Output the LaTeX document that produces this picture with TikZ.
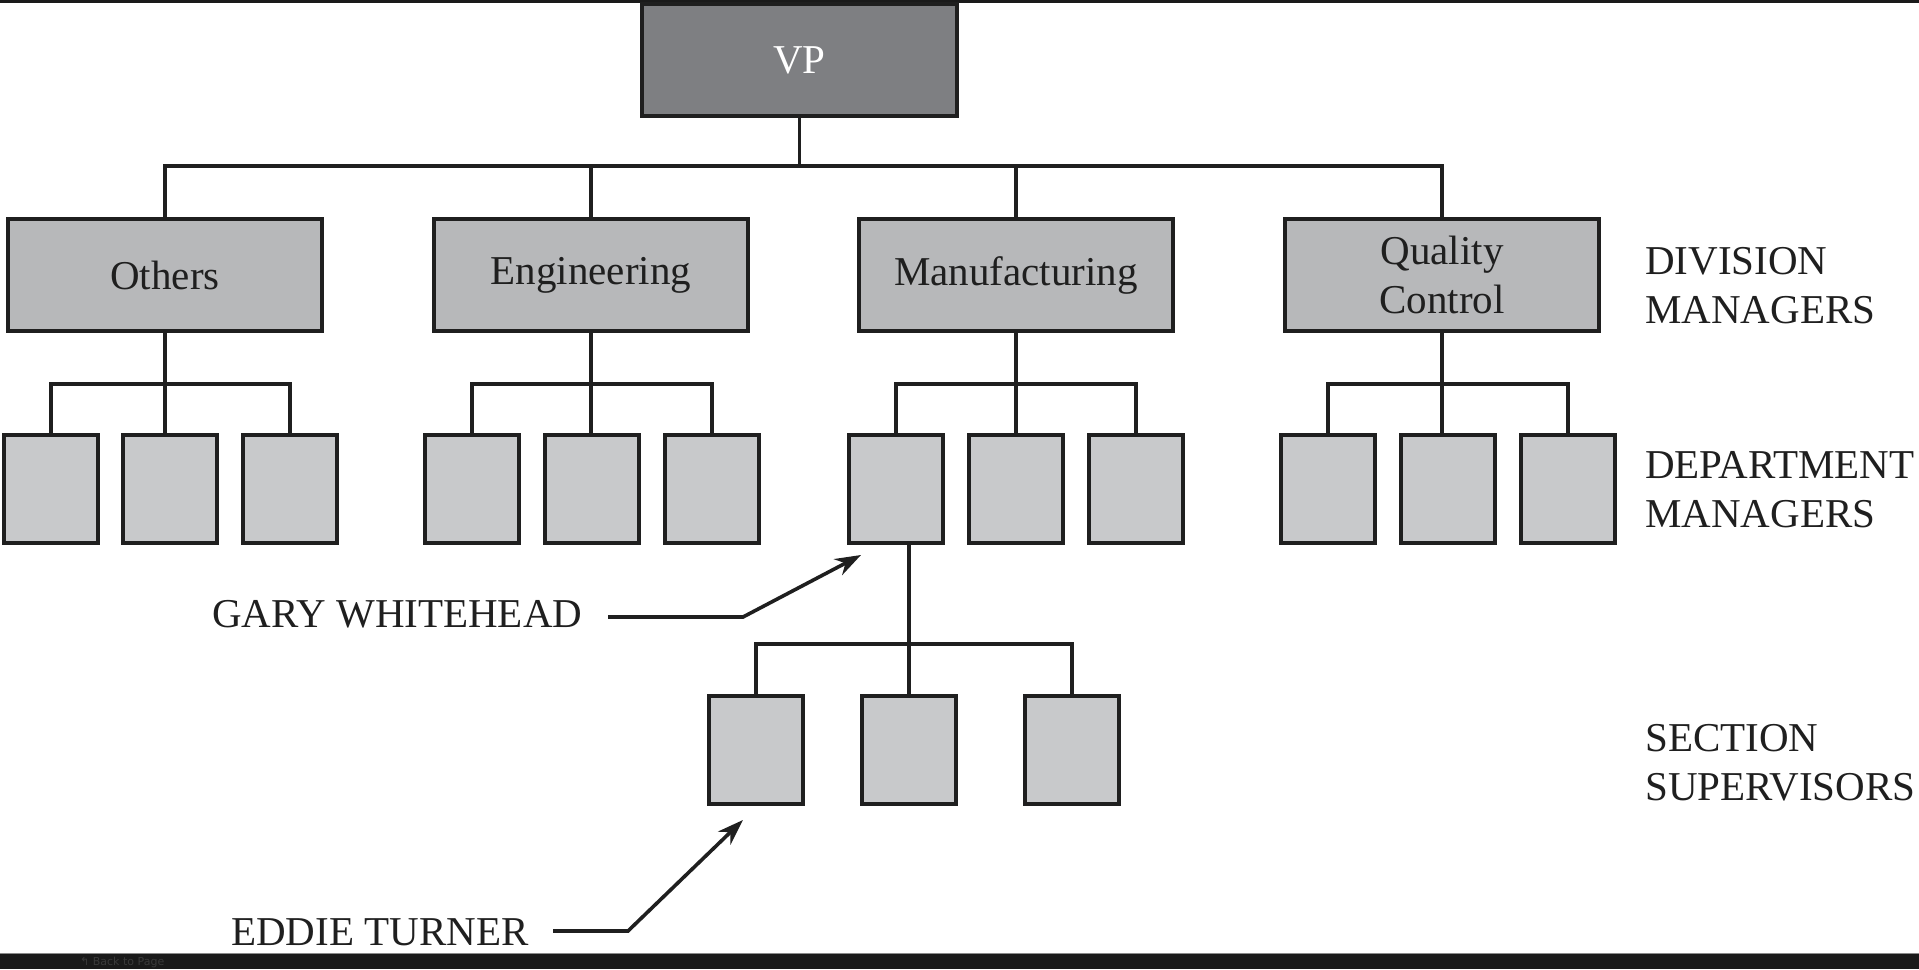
\documentclass[tikz,border=0pt]{standalone}
\usepackage{fontspec}
\setmainfont{Liberation Serif}
\newfontfamily\uifont{DejaVu Sans}
\usetikzlibrary{arrows.meta}
\pgfdeclarelayer{paper}
\pgfdeclarelayer{wires}
\pgfsetlayers{paper,wires,main}
\definecolor{ink}{HTML}{1F1F1F}
\definecolor{vpfill}{HTML}{7E7F82}
\definecolor{divfill}{HTML}{B7B8BA}
\definecolor{depfill}{HTML}{C8C9CB}
\definecolor{stripc}{HTML}{1A1A1A}
\definecolor{stripline}{HTML}{8A8A8A}
\definecolor{striptext}{HTML}{3A3A3A}
\tikzset{
  big/.style={font=\fontsize{41}{49}\selectfont},
  vpbox/.style={draw=ink, line width=4pt, fill=vpfill, text=white, big,
    minimum width=315pt, minimum height=112pt, inner sep=0pt},
  divbox/.style={draw=ink, line width=4pt, fill=divfill, text=ink, big, align=center,
    minimum width=314pt, minimum height=112pt, inner sep=0pt},
  depbox/.style={draw=ink, line width=4pt, fill=depfill,
    minimum width=94pt, minimum height=108pt, inner sep=0pt},
  secbox/.style={draw=ink, line width=4pt, fill=depfill,
    minimum width=94pt, minimum height=108pt, inner sep=0pt},
  conn/.style={draw=ink, line width=3.6pt},
  pointer/.style={draw=ink, line width=3.6pt, -{Stealth[length=26pt,width=18pt]}},
  label/.style={big, text=ink, inner sep=0pt, align=left},
}
\begin{document}
\begin{tikzpicture}[x=1pt,y=-1pt]
\useasboundingbox (0,0) rectangle (1919,969);
\begin{pgfonlayer}{paper}
\fill[white] (0,0) rectangle (1919,969);
\fill[stripc] (0,0) rectangle (1919,2.5);
\fill[stripc] (0,953) rectangle (1919,969);
\draw[stripline, line width=1pt] (0,953) -- (1919,953);
\end{pgfonlayer}
\node[anchor=west, text=striptext, font=\uifont\fontsize{11}{13}\selectfont, inner sep=0pt] (back) at (80,962) {↰ Back to Page};

% VP
\node[vpbox] (vp) at (799.5,60) {VP};
% Divisions
\node[divbox] (odiv) at (165,275) {Others};
\node[divbox] (ediv) at (591,275) {Engineering};
\node[divbox] (mdiv) at (1016,275) {Manufacturing};
\node[divbox] (qdiv) at (1442,275) {Quality\\Control};
% Departments
\node[depbox] (o1) at (51,489) {};
\node[depbox] (o2) at (170,489) {};
\node[depbox] (o3) at (290,489) {};
\node[depbox] (e1) at (472,489) {};
\node[depbox] (e2) at (592,489) {};
\node[depbox] (e3) at (712,489) {};
\node[depbox] (m1) at (896,489) {};
\node[depbox] (m2) at (1016,489) {};
\node[depbox] (m3) at (1136,489) {};
\node[depbox] (q1) at (1328,489) {};
\node[depbox] (q2) at (1448,489) {};
\node[depbox] (q3) at (1568,489) {};
% Sections
\node[secbox] (s1) at (756,749.5) {};
\node[secbox] (s2) at (909,749.5) {};
\node[secbox] (s3) at (1072,749.5) {};

\begin{pgfonlayer}{wires}
% VP to divisions
\coordinate (vpbus) at (799.5,166);
\draw[conn] (vp.south) -- (vpbus);
\draw[conn] (odiv.north) -- (odiv.north |- vpbus) -- (qdiv.north |- vpbus) -- (qdiv.north);
\draw[conn] (ediv.north) -- (ediv.north |- vpbus);
\draw[conn] (mdiv.north) -- (mdiv.north |- vpbus);
% divisions to departments
\coordinate (depbus) at (0,384);
\foreach \d/\a/\b/\c in {odiv/o1/o2/o3, ediv/e1/e2/e3, mdiv/m1/m2/m3, qdiv/q1/q2/q3}{
  \draw[conn] (\d.south) -- (\d.south |- \b.north);
  \draw[conn] (\a.north) -- (\a.north |- depbus) -- (\c.north |- depbus) -- (\c.north);
}
% department to sections
\coordinate (sbus) at (909,644);
\draw[conn] (s2.north |- m1.south) -- (s2.north);
\draw[conn] (s1.north) -- (s1.north |- sbus) -- (s3.north |- sbus) -- (s3.north);
\end{pgfonlayer}

% side labels
\node[label, anchor=west] (divlab) at (1645,286) {DIVISION\\MANAGERS};
\node[label, anchor=west] (deplab) at (1645,489.5) {DEPARTMENT\\MANAGERS};
\node[label, anchor=west] (seclab) at (1645,762.5) {SECTION\\SUPERVISORS};

% pointers
\node[label, anchor=west] (gary) at (212,614) {GARY WHITEHEAD};
\coordinate (gstart) at (608,617);
\coordinate (gbend) at (743,617);
\coordinate (gtip) at (861,555);
\draw[pointer] (gstart) -- (gbend) -- (gtip);

\node[label, anchor=west] (eddie) at (231,932) {EDDIE TURNER};
\coordinate (estart) at (553,931);
\coordinate (ebend) at (628,931);
\coordinate (etip) at (743,820);
\draw[pointer] (estart) -- (ebend) -- (etip);
\end{tikzpicture}
\end{document}
